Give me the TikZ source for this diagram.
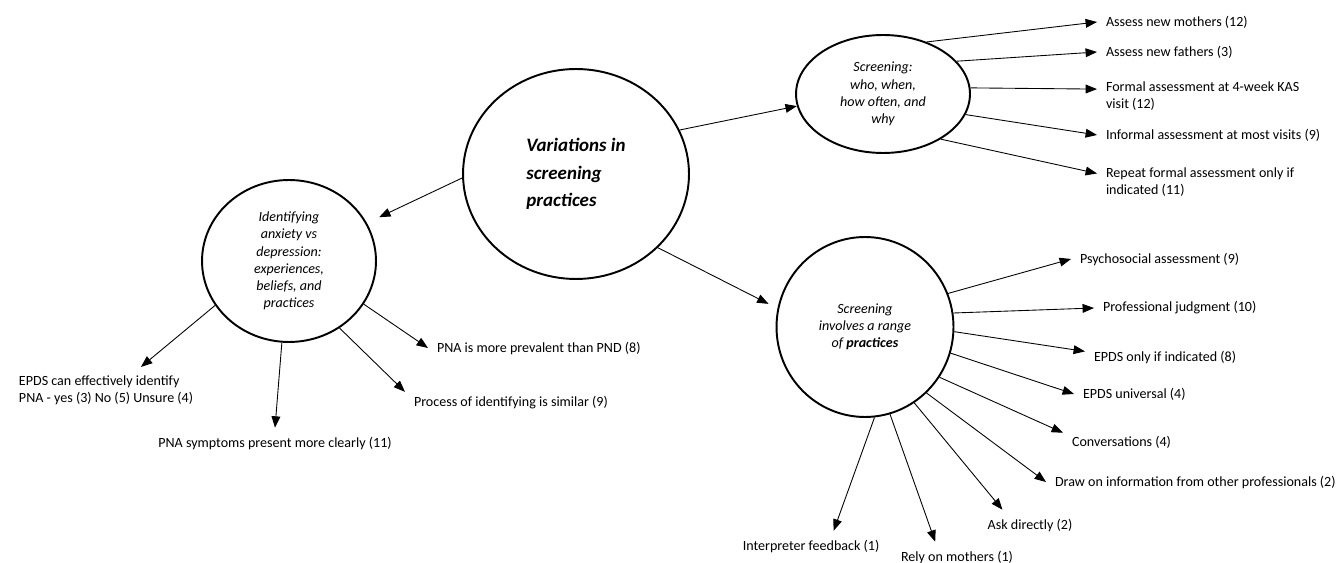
\documentclass[tikz,border=0pt]{standalone}
\usepackage{fontspec}
\setmainfont{Carlito}
\usetikzlibrary{shapes.geometric,arrows.meta}

\newcommand{\labsize}{\fontsize{8}{9.7}\selectfont}
\newcommand{\bubsize}{\fontsize{8}{9.8}\selectfont}
\newcommand{\mainsize}{\fontsize{10.8}{15.6}\selectfont}

\tikzset{
    bubble/.style={draw, ellipse, line width=1.1pt, inner sep=0pt, align=center, font=\bubsize\itshape},
    lab/.style={inner sep=0pt, outer sep=0.18cm, align=left, font=\labsize},
    arr/.style={-{Triangle[length=6.5pt,width=5pt]}, line width=0.5pt},
}

\begin{document}
\begin{tikzpicture}[x=0.02cm, y=-0.02cm]
    \useasboundingbox (0,0) rectangle (1341,563);

    \node[bubble, minimum width=4.52cm, minimum height=4.2cm, align=left, font=\mainsize\bfseries\itshape] (C) at (576,174) {Variations in\\screening\\practices};
    \node[bubble, minimum width=3.48cm, minimum height=3.24cm] (L) at (289,261) {Identifying\\anxiety vs\\depression:\\experiences,\\beliefs, and\\practices};
    \node[bubble, minimum width=3.48cm, minimum height=2.36cm] (T) at (883,94) {Screening:\\who, when,\\how often, and\\why};
    \node[bubble, minimum width=3.54cm, minimum height=3.6cm] (B) at (865,327) {Screening\\involves a range\\of \textbf{practices}};

    \node[lab, anchor=west] (mothers) at (1097,22) {Assess new mothers (12)};
    \node[lab, anchor=west] (fathers) at (1097,52) {Assess new fathers (3)};
    \node[lab, anchor=west] (formal) at (1097,96.5) {Formal assessment at 4-week KAS\\visit (12)};
    \node[lab, anchor=west] (informal) at (1097,135) {Informal assessment at most visits (9)};
    \node[lab, anchor=west] (repeatf) at (1097,182.5) {Repeat formal assessment only if\\indicated (11)};

    \node[lab, anchor=west] (psy) at (1071,259) {Psychosocial assessment (9)};
    \node[lab, anchor=west] (judg) at (1094,308) {Professional judgment (10)};
    \node[lab, anchor=west] (onlyif) at (1085,357) {EPDS only if indicated (8)};
    \node[lab, anchor=west] (univ) at (1074,394) {EPDS universal (4)};
    \node[lab, anchor=west] (conv) at (1063,442) {Conversations (4)};
    \node[lab, anchor=west] (other) at (1046,482) {Draw on information from other professionals (2)};
    \node[lab] (ask) at (1030,525) {Ask directly (2)};
    \node[lab] (rely) at (957,557) {Rely on mothers (1)};
    \node[lab] (interp) at (811,546) {Interpreter feedback (1)};

    \node[lab, anchor=west] (epds) at (10,390.5) {EPDS can effectively identify\\PNA - yes (3) No (5) Unsure (4)};
    \node[lab] (symptoms) at (275,443) {PNA symptoms present more clearly (11)};
    \node[lab, anchor=west] (process) at (405,403) {Process of identifying is similar (9)};
    \node[lab, anchor=west] (prevalent) at (428,348) {PNA is more prevalent than PND (8)};

    \draw[arr, shorten >=0.27cm] (C.182) -- (L.26);
    \draw[arr] (C.23) -- (T.188);
    \draw[arr, shorten >=0.2cm] (C.-42) -- (B.168);

    \draw[arr] (T.50) -- (mothers.west);
    \draw[arr] (T.24) -- (fathers.west);
    \draw[arr] (T.4) -- (formal.176);
    \draw[arr] (T.-14) -- (informal.west);
    \draw[arr] (T.-38) -- (repeatf.175);

    \draw[arr] (B.22) -- (psy.west);
    \draw[arr] (B.9) -- (judg.west);
    \draw[arr] (B.-3) -- (onlyif.176);
    \draw[arr] (B.-17) -- (univ.west);
    \draw[arr] (B.-34) -- (conv.171);
    \draw[arr] (B.-47) -- (other.west);
    \draw[arr] (B.-57) -- (ask.151);
    \draw[arr] (B.-74) -- (rely.145);
    \draw[arr] (B.-84) -- (interp.34);

    \draw[arr] (L.211) -- (epds.34);
    \draw[arr] (L.-95) -- (symptoms.north);
    \draw[arr] (L.-53) -- (process.174);
    \draw[arr] (L.-30) -- (prevalent.west);
\end{tikzpicture}
\end{document}
